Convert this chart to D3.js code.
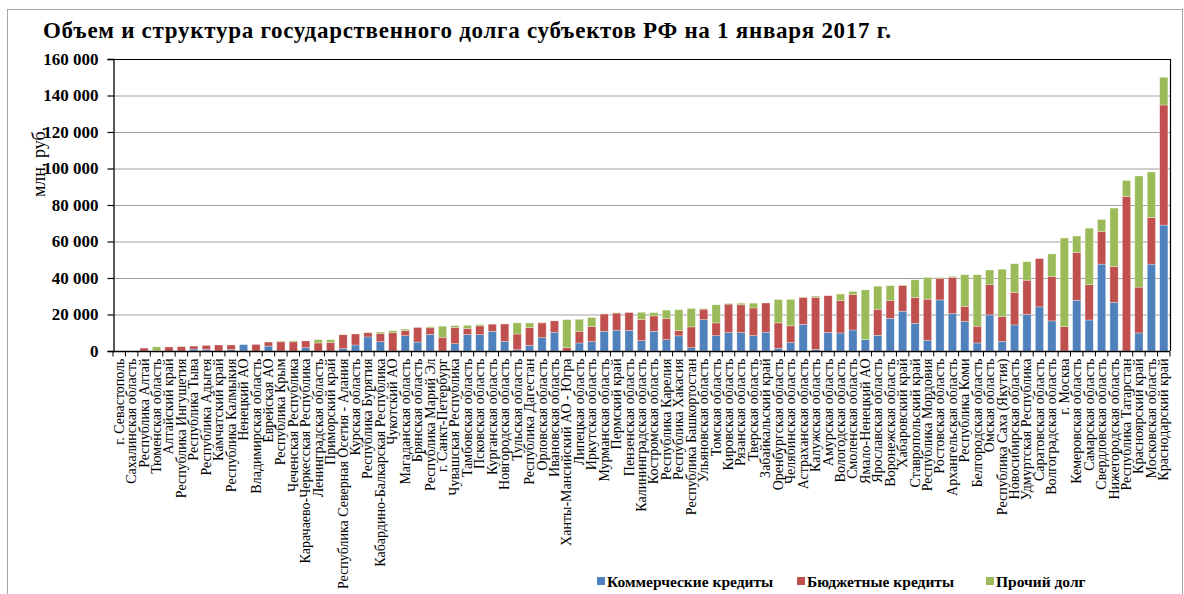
<!DOCTYPE html>
<html><head><meta charset="utf-8">
<script src="https://cdn.jsdelivr.net/npm/d3@7"></script>
<style>body{margin:0;background:#fff}svg{display:block}svg text{font-family:"Liberation Serif","Times New Roman",serif !important}</style>
</head><body><svg id="c" width="1184" height="594"></svg>
<script>
const categories = ["г. Севастополь","Сахалинская область","Республика Алтай","Тюменская область","Алтайский край","Республика Ингушетия","Республика Тыва","Республика Адыгея","Камчатский край","Республика Калмыкия","Ненецкий АО","Владимирская область","Еврейская АО","Республика Крым","Чеченская Республика","Карачаево-Черкесская Республика","Ленинградская область","Приморский край","Республика Северная  Осетия - Алания","Курская область","Республика Бурятия","Кабардино-Балкарская Республика","Чукотский АО","Магаданская область","Брянская область","Республика Марий Эл","г. Санкт-Петербург","Чувашская Республика","Тамбовская область","Псковская область","Курганская область","Новгородская область","Тульская область","Республика Дагестан","Орловская область","Ивановская область","Ханты-Мансийский АО - Югра","Липецкая область","Иркутская область","Мурманская область","Пермский край","Пензенская область","Калининградская область","Костромская область","Республика Карелия","Республика  Хакасия","Республика  Башкортостан","Ульяновская область","Томская область","Кировская область","Рязанская область","Тверская область","Забайкальский край","Оренбургская область","Челябинская область","Астраханская область","Калужская область","Амурская область","Вологодская область","Смоленская область","Ямало-Ненецкий АО","Ярославская область","Воронежская область","Хабаровский край","Ставропольский край","Республика  Мордовия","Ростовская область","Архангельская область","Республика Коми","Белгородская область","Омская область","Республика Саха (Якутия)","Новосибирская область","Удмуртская Республика","Саратовская область","Волгоградская область","г. Москва","Кемеровская область","Самарская область","Свердловская область","Нижегородская область","Республика  Татарстан","Красноярский край","Московская область","Краснодарский край"];
const commercial = [0,0,0,0,0,0,1100,1000,0,800,3500,0,2700,0,0,1800,0,0,1300,3300,7700,5100,0,8400,4900,9100,0,4000,9000,9000,10800,5300,700,3100,7300,10300,0,4400,5100,10800,11400,11200,5700,10800,6200,8300,1800,17200,8400,10100,10100,8400,10300,1500,4600,14600,900,10200,9900,11500,6200,8600,17900,21800,15200,5900,28000,20500,16300,4400,19800,5300,14300,20100,24200,16500,0,27800,17000,47600,26700,0,9900,47600,69000];
const budget = [0,0,1600,300,2200,2400,1600,2100,3300,2500,0,3600,2200,5000,5000,3700,4400,4700,7600,6000,2300,4600,10000,2700,8000,3600,7500,9000,3300,4800,3900,9500,8600,9700,8100,6200,1800,6400,8300,9500,9400,9900,11600,8400,11600,2900,11400,5700,7000,15600,15200,15200,16000,13900,9200,14800,28500,20100,17800,19400,0,14300,9700,14100,14100,22500,11900,19900,8100,9200,16500,13500,17800,18700,26400,24300,13400,26200,19400,17900,19600,84700,25100,25600,65800];
const other = [0,0,0,2000,0,0,0,0,0,0,0,0,0,500,600,0,1800,1500,200,0,0,700,1100,900,0,600,6100,900,1800,700,0,0,6100,2600,300,0,15400,6600,5000,200,200,0,3900,1800,4600,11400,10100,400,9900,400,900,2600,0,12800,14500,200,700,0,3500,1800,27300,12600,8200,200,9700,11900,400,500,17400,28200,8100,26000,15700,10100,0,12400,48500,9000,30900,6600,32000,8800,60900,24900,15200];
const yTicks = [0,20000,40000,60000,80000,100000,120000,140000,160000];
const seriesNames = ["Коммерческие кредиты","Бюджетные кредиты","Прочий долг"];
const seriesColors = ["#4F81BD","#C0504D","#9BBB59"];

const FONT = "'Liberation Serif','Times New Roman',serif";
const svg = d3.select("#c");
const L=113, R=1170, T=59, B=351;
svg.append("rect").attr("x",7.5).attr("y",9.5).attr("width",1175).attr("height",600)
  .attr("fill","none").attr("stroke","#a6a6a6").attr("stroke-width",1);

svg.append("text").attr("x",43).attr("y",38).attr("font-size",23).attr("font-weight","bold")
  .attr("letter-spacing",0.72).style("font-family",FONT)
  .text("Объем и структура государственного долга субъектов РФ на 1 января 2017 г.");

const x = d3.scaleBand().domain(categories).range([L,R]).paddingInner(0.34).paddingOuter(0.17);
const y = d3.scaleLinear().domain([0,160000]).range([B,T]);

svg.append("g").selectAll("line").data(yTicks.filter(v=>v>0 && v<160000)).join("line")
  .attr("x1",L).attr("x2",R).attr("y1",d=>y(d)+0.5).attr("y2",d=>y(d)+0.5)
  .attr("stroke","#a0a0a0").attr("stroke-width",1.2);

const data = categories.map((c,i)=>({cat:c, s0:commercial[i], s1:budget[i], s2:other[i]}));
const stack = d3.stack().keys(["s0","s1","s2"])(data);
svg.append("g").selectAll("g").data(stack).join("g").attr("fill",(d,i)=>seriesColors[i])
  .selectAll("rect").data(d=>d).join("rect")
  .attr("x",d=>x(d.data.cat)).attr("width",x.bandwidth())
  .attr("y",d=>y(d[1])).attr("height",d=>Math.max(0,y(d[0])-y(d[1])))
  .attr("stroke","#ffffff").attr("stroke-opacity",0.5).attr("stroke-width",0.6);

svg.append("path").attr("d",`M${L},${T+0.5}H${R+0.5}V${B}`).attr("fill","none").attr("stroke","#000").attr("stroke-width",1.2);

const yAxis = d3.axisLeft(y).tickValues(yTicks).tickSize(6).tickPadding(9)
  .tickFormat(d=>d3.format(",")(d).replace(/,/g," "));
const gy = svg.append("g").attr("transform",`translate(${L+0.5},0)`).call(yAxis)
  .attr("font-family",FONT);
gy.select(".domain").attr("stroke","#000").attr("stroke-width",1.3);
gy.selectAll(".tick line").attr("stroke","#000").attr("stroke-width",1.2);
gy.selectAll("text").attr("font-size",17).attr("font-weight","bold").attr("fill","#000")
  .style("font-family",FONT);

const gx = svg.append("g").attr("transform",`translate(0,${B+0.5})`);
gx.append("line").attr("x1",L).attr("x2",R).attr("stroke","#000").attr("stroke-width",1.3);
const bounds = d3.range(categories.length+1).map(i=>L+(R-L)*i/categories.length);
gx.selectAll(".tk").data(bounds).join("line").attr("class","tk")
  .attr("x1",d=>d).attr("x2",d=>d).attr("y1",0).attr("y2",5).attr("stroke","#000").attr("stroke-width",1);
gx.selectAll(".lbl").data(categories).join("text").attr("class","lbl")
  .attr("transform",d=>`translate(${x(d)+x.bandwidth()/2+4.5},7) rotate(-90)`)
  .attr("text-anchor","end").attr("font-size",14).style("font-family",FONT).text(d=>d);

svg.append("text").attr("transform","translate(45,162) rotate(-90)").attr("text-anchor","middle")
  .attr("font-size",18).style("font-family",FONT).text("млн. руб.");

const lx = [597,797,986];
const lg = svg.append("g").selectAll("g").data(seriesNames).join("g")
  .attr("transform",(d,i)=>`translate(${lx[i]},582)`);
lg.append("rect").attr("x",0).attr("y",-5).attr("width",8).attr("height",8).attr("fill",(d,i)=>seriesColors[i]);
lg.append("text").attr("x",10).attr("y",5).attr("font-size",15.5).attr("font-weight","bold").style("font-family",FONT).text(d=>d);
</script></body></html>
